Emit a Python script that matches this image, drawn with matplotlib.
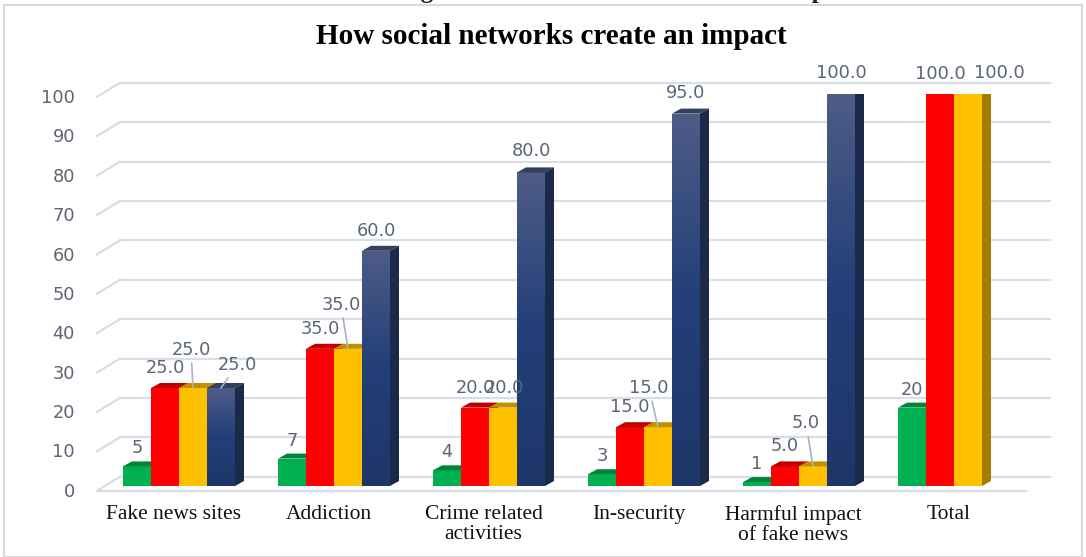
import numpy as np
import matplotlib
matplotlib.use("Agg")
import matplotlib.pyplot as plt
from matplotlib.patches import Rectangle, Polygon
from matplotlib.colors import LinearSegmentedColormap

# ---------------- data ----------------
categories = ["Fake news sites", "Addiction", "Crime related\nactivities",
              "In-security", "Harmful impact\nof fake news", "Total"]
green_vals = [5, 7, 4, 3, 1, 20]
red_vals = [25.0, 35.0, 20.0, 15.0, 5.0, 100.0]
yellow_vals = [25.0, 35.0, 20.0, 15.0, 5.0, 100.0]
blue_vals = [25.0, 60.0, 80.0, 95.0, 100.0, None]
yticks = [0, 10, 20, 30, 40, 50, 60, 70, 80, 90, 100]
title = "How social networks create an impact"
caption = "Chart 10: Showing How Social networks Create an Impact"

# ---------------- style ----------------
W, H = 1086, 557
fig = plt.figure(figsize=(W / 100, H / 100), dpi=100)
ax = fig.add_axes([97 / W, (H - 486) / H, 930 / W, 392 / H])
ax.set_xlim(-0.5, 5.5)
ax.set_ylim(0, 100)
ax.axis("off")

PXX = 1 / 155.0          # data x units per pixel
PXY = 100 / 392.0        # data y units per pixel

series = [
    (green_vals, "#00b050", "#00853b", "#006b30", "{:.0f}"),
    (red_vals, "#ff0000", "#c00000", "#a00000", "{:.1f}"),
    (yellow_vals, "#ffc000", "#c09000", "#a67c00", "{:.1f}"),
    (blue_vals, None, "#34405e", "#1b2a4b", "{:.1f}"),
]
# label offsets in pixels (dx, dy above front top) and leader flag
label_off = {
    0: [(0, 18, False)] * 6,
    1: [(0, 20, False)] * 6,
    2: [(-2, 38, True), (-7, 44, True), (1, 20, False), (-9, 39, True), (-7, 43, True), (31, 21, False)],
    3: [(16, 23, True), (0, 20, False), (0, 21, False), (0, 21, False), (0, 21, False), (0, 21, False)],
}

grid_col = "#d9dde4"
txt_col = "#5b6576"
num_fs = 12.8

# gridlines (3D floor/back wall look)
x_front = -0.5
x_back = -0.5 + 23 * PXX
x_end = -0.5 + 953 * PXX
for v in yticks:
    yf = -1.2 + 1.005 * v
    yb = 2.37 + 1.005 * v
    ax.plot([x_front, x_back], [yf, yb], color=grid_col, lw=1.6, clip_on=False, zorder=1)
    ax.plot([x_back, x_end], [yb, yb], color=grid_col, lw=1.6, clip_on=False, zorder=1)
    ax.text(-0.5 - 22 * PXX, yf - 0.3, str(v), ha="right", va="center",
            fontsize=num_fs, color=txt_col, family="DejaVu Sans", clip_on=False)
ax.plot([x_front, -0.5 + 929 * PXX], [-1.2, -1.2], color=grid_col, lw=1.6,
        clip_on=False, zorder=1)

bw = 28 * PXX
g_off = -51.5 * PXX
ddx = 9 * PXX
ddy = 5 * PXY

blue_cmap = LinearSegmentedColormap.from_list("b", ["#1e376a", "#223f78", "#4e5c87"])
grad = np.linspace(0, 1, 256).reshape(-1, 1)

z = 5
for i in range(len(categories)):
    for j, (vals, fc, tc, sc, fmt) in enumerate(series):
        v = vals[i]
        if v is None:
            continue
        x0 = i + g_off + j * bw
        x1 = x0 + bw
        z += 1
        if fc is None:
            rect = Rectangle((x0, 0), bw, v, facecolor="none", edgecolor="none", zorder=z)
            ax.add_patch(rect)
            im = ax.imshow(grad, cmap=blue_cmap, extent=[x0, x1, 0, v], origin="lower",
                           aspect="auto", zorder=z, interpolation="bilinear")
            im.set_clip_path(rect)
        else:
            ax.add_patch(Rectangle((x0, 0), bw, v, facecolor=fc, edgecolor="none", zorder=z))
        top = Polygon([(x0, v), (x1, v), (x1 + ddx, v + ddy), (x0 + ddx, v + ddy)],
                      closed=True, facecolor=tc, edgecolor="none", zorder=z)
        side = Polygon([(x1, 0), (x1 + ddx, ddy), (x1 + ddx, v + ddy), (x1, v)],
                       closed=True, facecolor=sc, edgecolor="none", zorder=z)
        ax.add_patch(top)
        ax.add_patch(side)
ax.set_xlim(-0.5, 5.5)
ax.set_ylim(0, 100)

# data labels
for j, (vals, fc, tc, sc, fmt) in enumerate(series):
    for i, v in enumerate(vals):
        if v is None:
            continue
        xc = i + g_off + j * bw + bw / 2
        dx, dy, lead = label_off[j][i]
        kw = {}
        if lead:
            kw["arrowprops"] = dict(arrowstyle="-", color="#a9b3c1", lw=1.2,
                                    shrinkA=1, shrinkB=0)
        ax.annotate(fmt.format(v), xy=(xc, v), xytext=(dx, dy),
                    textcoords="offset pixels", ha="center", va="center",
                    fontsize=num_fs, color=txt_col, family="DejaVu Sans",
                    annotation_clip=False, zorder=100, **kw)

# category labels
for i, c in enumerate(categories):
    ax.text(i - 1 * PXX, -19 * PXY, c, ha="center", va="top", fontsize=15.5,
            family="Liberation Serif", color="#111111", linespacing=1.05,
            clip_on=False)

# titles
fig.text(551.5 / W, 1 - 37 / H, title, ha="center", va="center", fontsize=21,
         fontweight="bold", family="Liberation Serif", color="#000000")
fig.text(545 / W, 1 + 2 / H, caption, ha="center", va="baseline", fontsize=18,
         fontweight="bold", family="Liberation Serif", color="#222222")

# outer border
fig.add_artist(Rectangle((4 / W, 0.0), (W - 8) / W, (H - 5) / H,
                         transform=fig.transFigure, fill=False,
                         edgecolor="#d6d9de", lw=1.5))

fig.savefig("out.png", dpi=100, facecolor="white")
